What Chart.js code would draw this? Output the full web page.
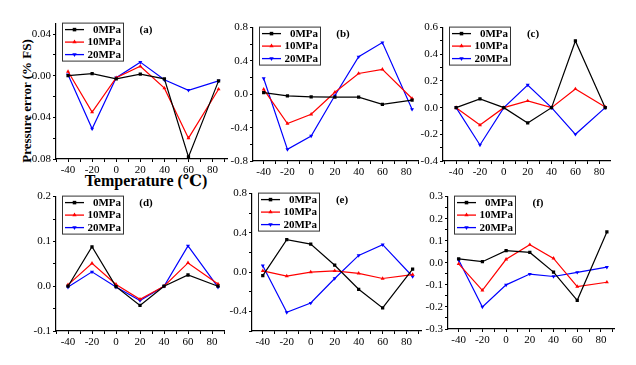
<!DOCTYPE html>
<html>
<head>
<meta charset="utf-8">
<script src="https://cdn.jsdelivr.net/npm/chart.js@4.4.1/dist/chart.umd.min.js"></script>
<style>
  body { margin: 0; background: #fff; width: 636px; height: 365px; position: relative; overflow: hidden; font-family: "Liberation Serif", "DejaVu Serif", serif; }
  .pane { position: absolute; }
  #ytitle { position: absolute; left: 27px; top: 101px; transform: translate(-50%, -50%) rotate(-90deg); font-weight: bold; font-size: 13px; white-space: nowrap; }
  #xtitle { position: absolute; left: 146px; top: 180px; transform: translate(-50%, -50%); font-weight: bold; font-size: 16px; white-space: nowrap; }
</style>
</head>
<body>
<div id="ytitle">Pressure error (% FS)</div>
<div id="xtitle">Temperature (℃)</div>

<script>
// --- DATA ---
const temps = [-40, -20, 0, 20, 40, 60, 85];
const seriesNames = ["0MPa", "10MPa", "20MPa"];
const xTicks = [-40, -20, 0, 20, 40, 60, 80];

const a0  = [0.000, 0.002, -0.003, 0.0015, -0.003, -0.078, -0.005];
const a10 = [0.004, -0.035, -0.002, 0.009, -0.012, -0.060, -0.013];
const a20 = [0.001, -0.051, -0.002, 0.013, -0.004, -0.014, -0.005];
const aTicks = [-0.08, -0.04, 0.00, 0.04];

const b0  = [0.02, -0.02, -0.03, -0.035, -0.035, -0.12, -0.07];
const b10 = [0.06, -0.35, -0.24, 0.025, 0.25, 0.30, -0.05];
const b20 = [0.19, -0.66, -0.50, -0.015, 0.45, 0.62, -0.18];
const bTicks = [-0.8, -0.4, 0.0, 0.4, 0.8];

const c0  = [0.0, 0.065, 0.0, -0.115, 0.0, 0.50, 0.0];
const c10 = [0.0, -0.13, 0.0, 0.05, 0.0, 0.14, 0.005];
const c20 = [0.0, -0.28, 0.0, 0.17, 0.0, -0.20, 0.0];
const cTicks = [-0.4, -0.2, 0.0, 0.2, 0.4, 0.6];

const d0  = [0.0, 0.088, -0.001, -0.043, 0.0, 0.025, 0.0];
const d10 = [0.003, 0.051, 0.004, -0.029, 0.0, 0.052, 0.005];
const d20 = [-0.002, 0.032, -0.002, -0.032, 0.0, 0.090, -0.002];
const dTicks = [-0.1, 0.0, 0.1, 0.2];

const e0  = [-0.035, 0.33, 0.285, 0.07, -0.175, -0.365, 0.03];
const e10 = [0.013, -0.04, 0.0, 0.013, -0.013, -0.065, -0.025];
const e20 = [0.065, -0.41, -0.315, -0.065, 0.17, 0.28, -0.045];
const eTicks = [-0.4, 0.0, 0.4, 0.8];

const f0  = [0.018, 0.005, 0.055, 0.047, -0.042, -0.17, 0.14];
const f10 = [-0.005, -0.125, 0.016, 0.082, 0.02, -0.108, -0.088];
const f20 = [0.013, -0.20, -0.10, -0.051, -0.062, -0.043, -0.02];
const fTicks = [-0.3, -0.2, -0.1, 0.0, 0.1, 0.2, 0.3];

// --- LAYOUT / STYLE ---
const colors = ["#000000", "#ff0000", "#0000ff"];
const shapes = [["rect", 0], ["triangle", 0], ["triangle", 180]];
const Y_W = 40, X_H = 20, PAD_T = 8, PAD_R = 10;

const panels = [
  { tag: "(a)", series: [a0, a10, a20], ticks: aTicks, dec: 2, y: [-0.08, 0.05], x: [-50, 92], box: [56, 23, 227, 159] },
  { tag: "(b)", series: [b0, b10, b20], ticks: bTicks, dec: 1, y: [-0.8, 0.8],   x: [-49, 90], box: [253, 27, 418, 161] },
  { tag: "(c)", series: [c0, c10, c20], ticks: cTicks, dec: 1, y: [-0.4, 0.6],   x: [-51, 89], box: [443, 27, 610, 161] },
  { tag: "(d)", series: [d0, d10, d20], ticks: dTicks, dec: 1, y: [-0.1, 0.2],   x: [-50, 90], box: [56, 196, 224, 331] },
  { tag: "(e)", series: [e0, e10, e20], ticks: eTicks, dec: 1, y: [-0.6, 0.8],   x: [-49, 92], box: [252, 193, 421, 331] },
  { tag: "(f)", series: [f0, f10, f20], ticks: fTicks, dec: 1, y: [-0.3, 0.3],   x: [-49, 91], box: [448, 196, 614, 329] }
];

// majors + half-step minors inside [min, max]
const withMinors = (majors, min, max) => {
  const step = majors[1] - majors[0];
  const out = [];
  for (let v = majors[0] - step * 2; v <= majors[majors.length - 1] + step * 2 + 1e-9; v += step / 2) {
    const r = Math.round(v * 1e6) / 1e6;
    if (r >= min - 1e-9 && r <= max + 1e-9) out.push(r);
  }
  return out;
};
const isIn = (arr, v) => arr.some(m => Math.abs(m - v) < 1e-9);

const decoPlugin = {
  id: "deco",
  afterDraw(chart) {
    const p = chart.options.plugins.deco;
    const ctx = chart.ctx, area = chart.chartArea;
    ctx.save();
    // legend box
    const lx = area.left + 6, ly = area.top - 1, lw = 61, lh = 38;
    ctx.strokeStyle = "#333";
    ctx.lineWidth = 1;
    ctx.strokeRect(lx + 0.5, ly + 0.5, lw, lh);
    chart.data.datasets.forEach((ds, i) => {
      const yy = ly + 7 + i * 12.5;
      ctx.strokeStyle = ds.borderColor;
      ctx.lineWidth = 1.3;
      ctx.beginPath();
      ctx.moveTo(lx + 3, yy);
      ctx.lineTo(lx + 22, yy);
      ctx.stroke();
      ctx.fillStyle = ds.borderColor;
      Chart.helpers.drawPoint(ctx, { pointStyle: ds.pointStyle, rotation: ds.pointRotation, radius: 2.5, borderWidth: 0 }, lx + 12.5, yy);
      ctx.fillStyle = "#000";
      ctx.font = "bold 11px 'Liberation Serif'";
      ctx.textAlign = "right";
      ctx.textBaseline = "middle";
      ctx.fillText(ds.label, lx + lw - 2, yy + 0.5);
    });
    // panel tag
    ctx.textAlign = "center";
    ctx.fillText(p.tag, area.left + 90, area.top + 7);
    ctx.restore();
  }
};

panels.forEach((p, k) => {
  const [L, T, R, B] = p.box;
  const wrap = document.createElement("div");
  wrap.className = "pane";
  const w = Y_W + (R - L) + PAD_R, h = PAD_T + (B - T) + X_H;
  wrap.style.cssText = `left:${L - Y_W}px;top:${T - PAD_T}px;width:${w}px;height:${h}px;`;
  const cv = document.createElement("canvas");
  wrap.appendChild(cv);
  document.body.appendChild(wrap);

  const yAll = withMinors(p.ticks, p.y[0], p.y[1]);
  const xAll = withMinors(xTicks, p.x[0], p.x[1]);

  new Chart(cv, {
    type: "line",
    data: {
      datasets: p.series.map((s, i) => ({
        label: seriesNames[i],
        data: temps.map((t, j) => ({ x: t, y: s[j] })),
        borderColor: colors[i],
        backgroundColor: colors[i],
        borderWidth: 1.2,
        pointStyle: shapes[i][0],
        pointRotation: shapes[i][1],
        pointRadius: 2.3,
        pointBorderWidth: 0,
        tension: 0
      }))
    },
    options: {
      responsive: true,
      maintainAspectRatio: false,
      animation: false,
      events: [],
      layout: { padding: { top: PAD_T, right: PAD_R, left: 0, bottom: 0 } },
      plugins: { legend: { display: false }, tooltip: { enabled: false }, deco: { tag: p.tag } },
      scales: {
        x: {
          type: "linear",
          min: p.x[0], max: p.x[1],
          afterBuildTicks: s => { s.ticks = xAll.map(v => ({ value: v })); },
          afterFit: s => { s.height = X_H; },
          border: { display: true, color: "#000", width: 1.2 },
          grid: { drawOnChartArea: false, drawTicks: true, tickLength: 3, color: "#000", lineWidth: 1 },
          ticks: {
            autoSkip: false, maxRotation: 0, padding: 2, color: "#000",
            font: { family: "Liberation Serif", size: 11 },
            callback: v => isIn(xTicks, v) ? String(v) : ""
          }
        },
        y: {
          type: "linear",
          min: p.y[0], max: p.y[1],
          afterBuildTicks: s => { s.ticks = yAll.map(v => ({ value: v })); },
          afterFit: s => { s.width = Y_W; },
          border: { display: true, color: "#000", width: 1.2 },
          grid: { drawOnChartArea: false, drawTicks: true, tickLength: 3, color: "#000", lineWidth: 1 },
          ticks: {
            autoSkip: false, padding: 2, color: "#000",
            font: { family: "Liberation Serif", size: 11 },
            callback: v => isIn(p.ticks, v) ? v.toFixed(p.dec) : ""
          }
        }
      }
    },
    plugins: [decoPlugin]
  });
});
</script>
</body>
</html>
